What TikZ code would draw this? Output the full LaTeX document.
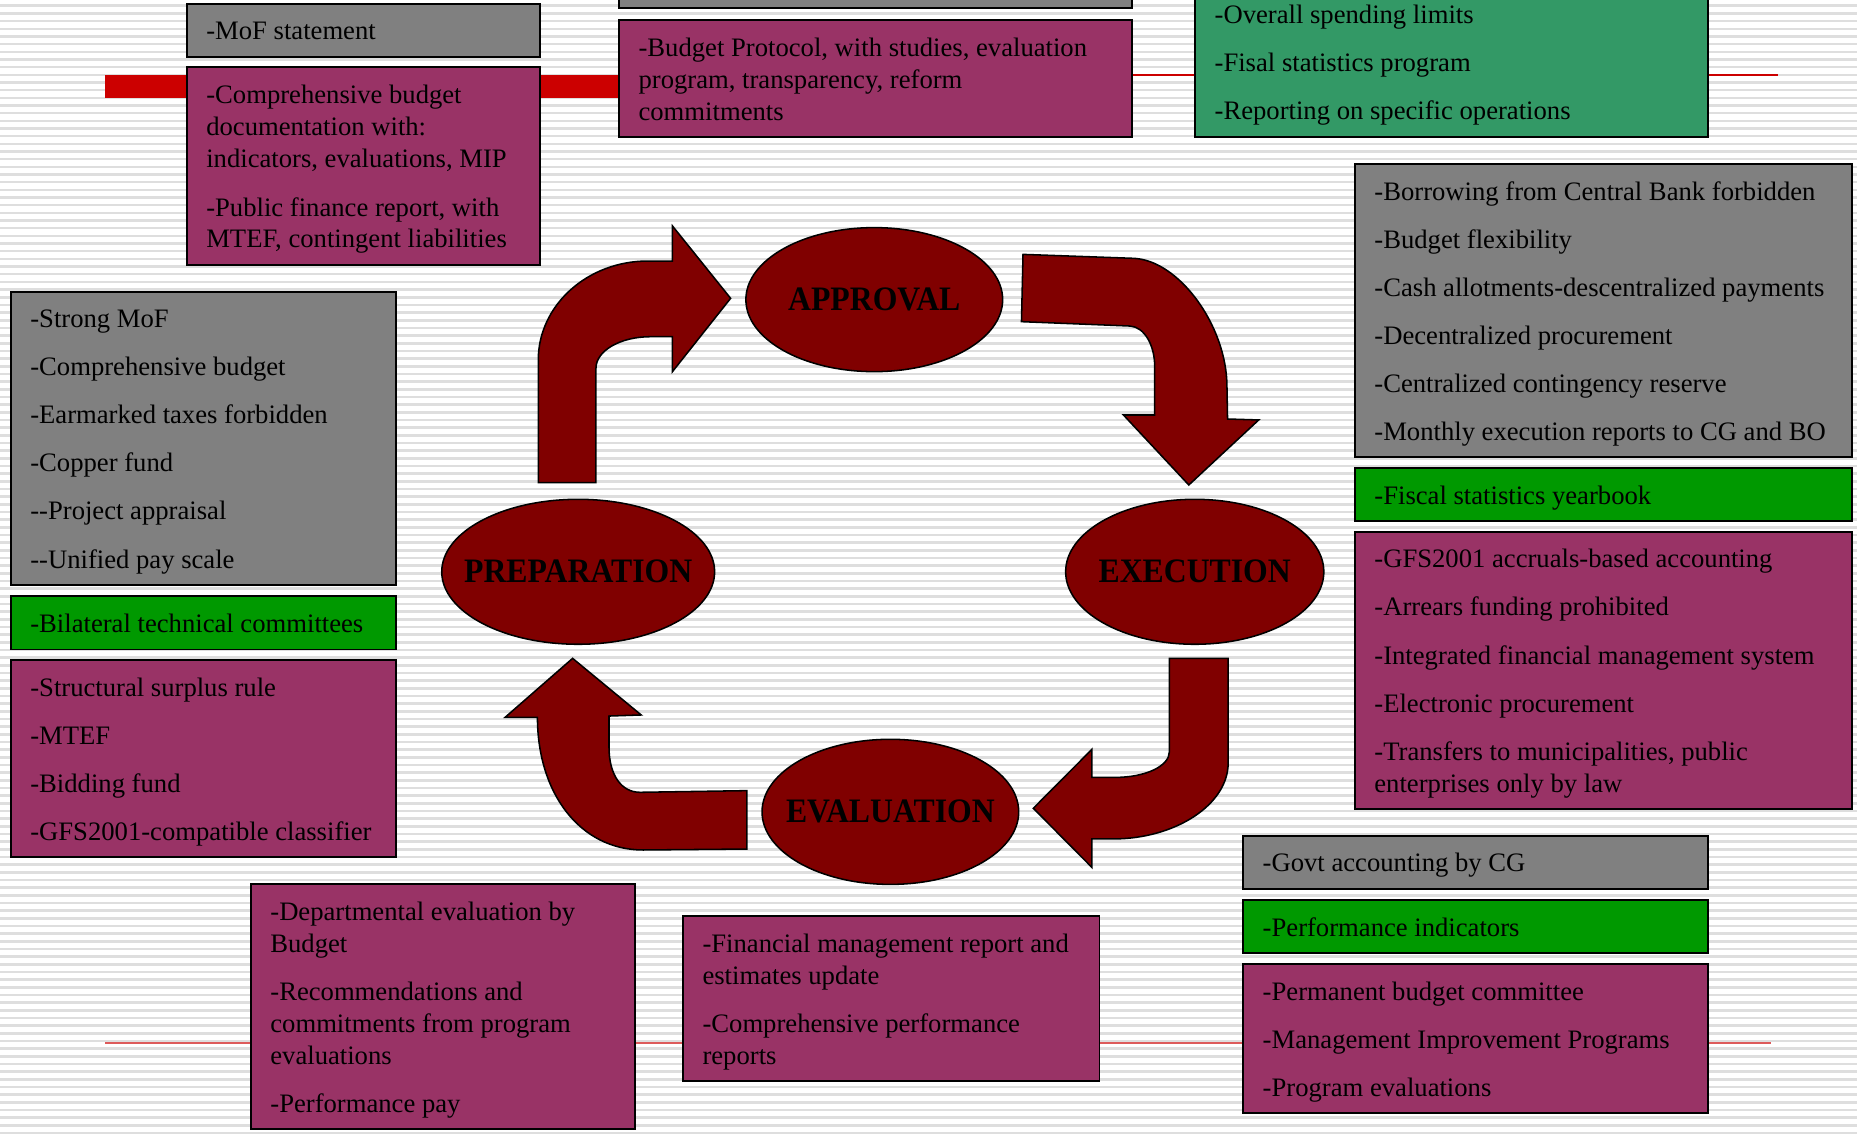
\documentclass[tikz,border=0pt]{standalone}
\usepackage{fontspec}
\setmainfont{Liberation Serif}
\usetikzlibrary{shapes.geometric}

\definecolor{panelgray}{HTML}{808080}
\definecolor{panelplum}{HTML}{993366}
\definecolor{panelteal}{HTML}{339966}
\definecolor{panelgreen}{HTML}{009900}
\definecolor{stagered}{HTML}{800000}
\definecolor{barred}{HTML}{CC0000}
\definecolor{linered}{HTML}{DD5B5B}
\definecolor{stripegray}{HTML}{DEDEDE}

\newcommand{\textstrut}{\rule[-5pt]{0pt}{26pt}}
\newcommand{\itemgap}{\\[13.6pt]}

\tikzset{
  panel/.style={rectangle, draw=black, line width=1.6pt, inner sep=0pt, anchor=north west},
  paneltext/.style={anchor=west, align=left, inner sep=0pt,
    font=\fontsize{22.5}{27}\selectfont,
    execute at begin node=\textstrut, execute at end node=\textstrut},
  listtext/.style={paneltext, yshift=-3pt},
  stage/.style={ellipse, draw=black, line width=1.3pt, fill=stagered, inner sep=0pt,
    font=\bfseries\fontsize{26.8}{30}\selectfont},
  blockarrow/.style={draw=black, line width=1.3pt, fill=stagered, line join=miter},
  stripe/.style={draw=stripegray, line width=2.2pt}
}

\begin{document}
\begin{tikzpicture}[x=1pt, y=-1pt]
  \useasboundingbox (0,0) rectangle (1568,957);
  \clip (0,0) rectangle (1568,957);

  % striped background
  \fill[white] (0,0) rectangle (1568,957);
  \foreach \i in {0,...,148} {
    \draw[stripe] (0,{4.9+6.475*\i}) -- (1568,{4.9+6.475*\i});
  }

  % red guide lines
  \fill[barred] (89,63) rectangle (530,83);
  \draw[barred, line width=1.5pt] (940,63.5) -- (1501,63.5);
  \draw[linered, line width=1.6pt] (89,880.4) -- (1495.6,880.4);

  % ---- approval panels (top)
  \node[panel, fill=panelgray, minimum width=298, minimum height=45] (mofbox) at (157,2.3) {};
  \node[paneltext] (moftext) at ([xshift=17pt]mofbox.west) {-MoF statement};

  \node[panel, fill=panelplum, minimum width=298, minimum height=167] (docbox) at (157,56) {};
  \node[listtext] (doctext) at ([xshift=17pt]docbox.west)
    {-Comprehensive budget\\documentation with:\\indicators, evaluations, MIP\itemgap
     -Public finance report, with\\MTEF, contingent liabilities};

  \node[panel, fill=panelgray, minimum width=433, minimum height=46.2] (topbox) at (522,-40) {};

  \node[panel, fill=panelplum, minimum width=433, minimum height=99] (protobox) at (522,16) {};
  \node[listtext] (prototext) at ([xshift=17pt]protobox.west)
    {-Budget Protocol, with studies, evaluation\\program, transparency, reform\\commitments};

  \node[panel, fill=panelteal, minimum width=432.8, minimum height=126.8] (limitbox) at (1008.4,-12) {};
  \node[listtext] (limittext) at ([xshift=17pt]limitbox.west)
    {-Overall spending limits\itemgap-Fisal statistics program\itemgap-Reporting on specific operations};

  % ---- execution panels (right)
  \node[panel, fill=panelgray, minimum width=419.7, minimum height=247.2] (execbox) at (1143.3,137.6) {};
  \node[listtext] (exectext) at ([xshift=17pt]execbox.west)
    {-Borrowing from Central Bank forbidden\itemgap
     -Budget flexibility\itemgap
     -Cash allotments-descentralized payments\itemgap
     -Decentralized procurement\itemgap
     -Centralized contingency reserve\itemgap
     -Monthly execution reports to CG and BO};

  \node[panel, fill=panelgreen, minimum width=419.7, minimum height=44.3] (yearbox) at (1143.3,394.7) {};
  \node[paneltext] (yeartext) at ([xshift=17pt]yearbox.west) {-Fiscal statistics yearbook};

  \node[panel, fill=panelplum, minimum width=419.7, minimum height=234] (acctbox) at (1143.3,448.1) {};
  \node[listtext] (accttext) at ([xshift=17pt]acctbox.west)
    {-GFS2001 accruals-based accounting\itemgap
     -Arrears funding prohibited\itemgap
     -Integrated financial management system\itemgap
     -Electronic procurement\itemgap
     -Transfers to municipalities, public\\enterprises only by law};

  % ---- preparation panels (left)
  \node[panel, fill=panelgray, minimum width=325.1, minimum height=247.8] (prepbox) at (8.4,245.5) {};
  \node[listtext] (preptext) at ([xshift=17pt]prepbox.west)
    {-Strong MoF\itemgap
     -Comprehensive budget\itemgap
     -Earmarked taxes forbidden\itemgap
     -Copper fund\itemgap
     -\kern0pt-Project appraisal\itemgap
     -\kern0pt-Unified pay scale};

  \node[panel, fill=panelgreen, minimum width=325.1, minimum height=45.2] (commbox) at (8.4,502.4) {};
  \node[paneltext] (commtext) at ([xshift=17pt]commbox.west) {-Bilateral technical committees};

  \node[panel, fill=panelplum, minimum width=325.1, minimum height=166.5] (rulebox) at (8.4,556.3) {};
  \node[listtext] (ruletext) at ([xshift=17pt]rulebox.west)
    {-Structural surplus rule\itemgap-MTEF\itemgap-Bidding fund\itemgap-GFS2001-compatible classifier};

  % ---- evaluation panels (bottom)
  \node[panel, fill=panelplum, minimum width=324.5, minimum height=207.4] (deptbox) at (211.1,745.3) {};
  \node[listtext] (depttext) at ([xshift=17pt]deptbox.west)
    {-Departmental evaluation by\\Budget\itemgap
     -Recommendations and\\commitments from program\\evaluations\itemgap
     -Performance pay};

  \node[panel, fill=panelplum, minimum width=351.6, minimum height=139.3] (repbox) at (576,772.6) {};
  \node[listtext] (reptext) at ([xshift=17pt]repbox.west)
    {-Financial management report and\\estimates update\itemgap
     -Comprehensive performance\\reports};

  \node[panel, fill=panelgray, minimum width=392.3, minimum height=45.2] (govbox) at (1049,704.8) {};
  \node[paneltext] (govtext) at ([xshift=17pt]govbox.west) {-Govt accounting by CG};

  \node[panel, fill=panelgreen, minimum width=392.3, minimum height=45] (indbox) at (1049,759.1) {};
  \node[paneltext] (indtext) at ([xshift=17pt]indbox.west) {-Performance indicators};

  \node[panel, fill=panelplum, minimum width=392.3, minimum height=126.3] (progbox) at (1049,812.9) {};
  \node[listtext] (progtext) at ([xshift=17pt]progbox.west)
    {-Permanent budget committee\itemgap-Management Improvement Programs\itemgap-Program evaluations};

  % ---- cycle arrows
  % preparation -> approval
  \draw[blockarrow] (454.5,407.6) -- (454.5,304)
    .. controls (454.5,257.8) and (496,220.4) .. (547,220.4)
    -- (567.8,220.4) -- (567.8,190.8) -- (616.9,251.9) -- (567.8,313.8)
    -- (567.8,284.3) -- (549.3,284.3)
    .. controls (524,284.3) and (503.2,296) .. (503.2,311)
    -- (503.2,407.6) -- cycle;
  % approval -> execution
  \draw[blockarrow] (863.8,214.8) -- (956.4,218.1)
    .. controls (995,219) and (1036,275) .. (1036,326.5)
    -- (1036.5,353.8) -- (1062.8,354.6) -- (1003.8,409.5) -- (948.6,350.4)
    -- (975,350.4) -- (975,309.6)
    .. controls (975,291) and (966,276) .. (954.2,275.3)
    -- (862.5,271.6) -- cycle;
  % execution -> evaluation
  \draw[blockarrow] (987.4,555.9) -- (1037,555.9) -- (1037,644.4)
    .. controls (1037,679) and (993,708.4) .. (939.4,708.4)
    -- (922,708.4) -- (922,732.4) -- (872.5,682.5) -- (922,632.7)
    -- (922,656.4) -- (941.8,656.4)
    .. controls (967,656.4) and (987.4,647) .. (987.4,634.7) -- cycle;
  % evaluation -> preparation
  \draw[blockarrow] (630.7,667.6) -- (540.4,669)
    .. controls (525,669) and (514.2,655) .. (514.2,630.6)
    -- (514.2,604.6) -- (541.4,603.7) -- (483.5,555.9) -- (426.5,605.7)
    -- (453.8,605.7)
    .. controls (453.8,670) and (490,717.7) .. (543,717.7)
    -- (630.7,716.9) -- cycle;

  % ---- stages
  \node[stage, minimum width=216.8, minimum height=121.6] (approval) at (738.2,253) {\makebox[0pt]{\scalebox{1}[1.08]{APPROVAL}}};
  \node[stage, minimum width=230.4, minimum height=122.4] (preparation) at (488.2,482.8) {\makebox[0pt]{\scalebox{1}[1.08]{PREPARATION}}};
  \node[stage, minimum width=218, minimum height=122.4] (execution) at (1008.8,482.8) {\makebox[0pt]{\scalebox{1}[1.08]{EXECUTION}}};
  \node[stage, minimum width=216.7, minimum height=122.5] (evaluation) at (751.8,685.5) {\makebox[0pt]{\scalebox{1}[1.08]{EVALUATION}}};
\end{tikzpicture}
\end{document}
